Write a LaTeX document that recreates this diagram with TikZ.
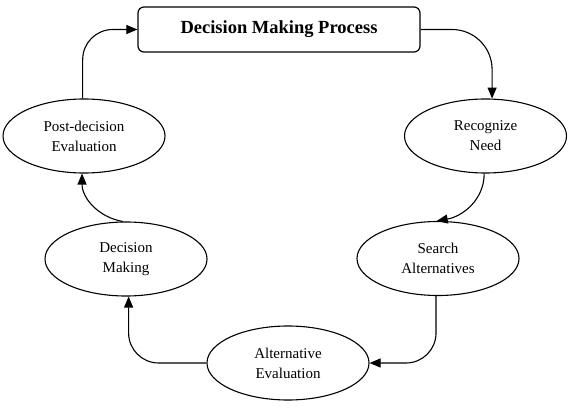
\documentclass[tikz,border=0pt]{standalone}
\usepackage{fontspec}
\setmainfont{Liberation Serif}
\usetikzlibrary{shapes.geometric,arrows.meta}
\begin{document}
\begin{tikzpicture}[x=1pt,y=-1pt,
  stage/.style={ellipse,draw,line width=1.1pt,minimum width=162pt,minimum height=74pt,inner sep=0pt,
    align=center,font=\fontsize{15}{20}\selectfont},
  titlebox/.style={draw,line width=1.2pt,rounded corners=6pt,minimum width=282pt,minimum height=45pt,
    font=\fontsize{18.5}{22}\selectfont\bfseries},
  flow/.style={line width=1.1pt,-{Triangle[length=11pt,width=9pt]}}]
\useasboundingbox (0,0) rectangle (573,409);
\node[titlebox] (dmp) at (279,29.5) {Decision Making Process};
\node[stage] (rn) at (485.5,136) {Recognize\\Need};
\node[stage] (sa) at (438,258.5) {Search\\Alternatives};
\node[stage] (ae) at (288,363) {Alternative\\Evaluation};
\node[stage] (dm) at (126,259) {Decision\\Making};
\node[stage] (pd) at (84,136) {Post-decision\\Evaluation};
\draw[flow,rounded corners=40pt] (dmp.east) -| (rn.80);
\draw[flow] (rn.268) to[out=-90,in=10] (sa.92);
\draw[flow,rounded corners=30pt] (sa.267) |- (ae.east);
\draw[flow,rounded corners=30pt] (ae.west) -| (dm.274);
\draw[flow] (dm.95) to[out=170,in=-90] (pd.267);
\draw[flow,rounded corners=30pt] (pd.92) |- (dmp.west);
\end{tikzpicture}
\end{document}
